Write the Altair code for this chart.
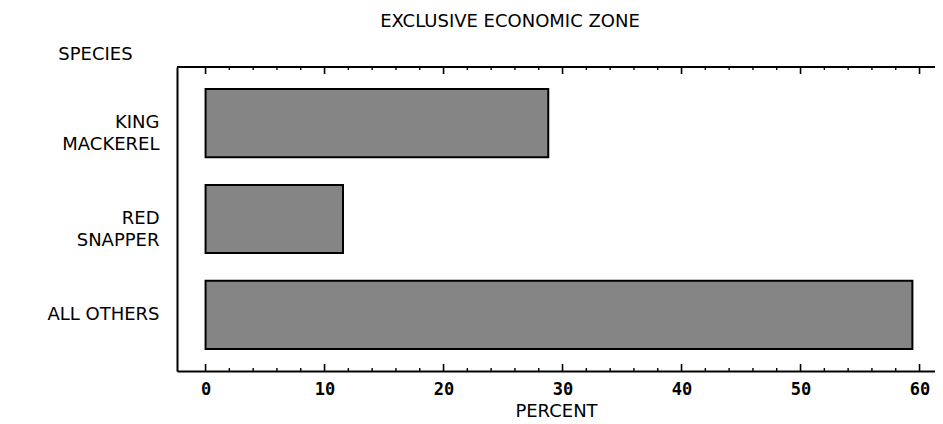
import altair as alt
import pandas as pd

# ---- data ----
species = ["KING MACKEREL", "RED SNAPPER", "ALL OTHERS"]
percent = [28.8, 11.55, 59.4]
major_ticks = [0, 10, 20, 30, 40, 50, 60]
minor_ticks = [2, 4, 6, 8, 12, 14, 16, 18, 22, 24, 26, 28,
               32, 34, 36, 38, 42, 44, 46, 48, 52, 54, 56, 58]

title_text = "EXCLUSIVE ECONOMIC ZONE"
x_title = "PERCENT"
y_title = "SPECIES"

W, H = 758, 304

bars_df = pd.DataFrame({"species": species, "percent": percent})
major_df = pd.DataFrame({"v": major_ticks})
minor_df = pd.DataFrame({"v": minor_ticks})
one_df = pd.DataFrame({"a": [0]})

xscale = alt.Scale(domain=[-2.4, 61.3], zero=False, nice=False)
yscale = alt.Scale(domain=species, paddingInner=0.288, paddingOuter=0.23)

x_axis = alt.Axis(values=major_ticks, ticks=False, tickSize=0,
                  domain=True, domainColor="black", domainWidth=2,
                  grid=False,
                  labelFont="DejaVu Sans Mono", labelFontWeight="bold",
                  labelFontSize=17, labelColor="black",
                  labelBaseline="middle", labelPadding=18,
                  title=x_title, titleFont="DejaVu Sans",
                  titleFontSize=18, titleFontWeight="normal",
                  titleColor="black", titleY=40,
                  titleBaseline="middle")

NB = "\u00a0" * 6
label_expr = ("datum.value == 'ALL OTHERS' ? datum.value : "
              "[split(datum.value, ' ')[0] + '" + NB + "', split(datum.value, ' ')[1]]")

bars = alt.Chart(bars_df).mark_bar(
    fill="#858585", stroke="black", strokeWidth=2
).encode(
    x=alt.X("percent:Q", scale=xscale, axis=x_axis),
    x2=alt.datum(0),
    y=alt.Y("species:N", scale=yscale, sort=species,
            axis=alt.Axis(ticks=False, tickSize=0, domain=True,
                          domainColor="black", domainWidth=2, grid=False,
                          labelExpr=label_expr, labelAlign="right",
                          labelBaseline="middle", labelPadding=18,
                          labelFont="DejaVu Sans", labelFontSize=18,
                          labelLineHeight=22, labelColor="black", labelLimit=0,
                          title=y_title, titleAngle=0, titleX=-82, titleY=-13,
                          titleAlign="center", titleBaseline="middle",
                          titleFont="DejaVu Sans", titleFontSize=18,
                          titleFontWeight="normal", titleColor="black")),
)

top_line = alt.Chart(one_df).mark_rule(color="black", strokeWidth=2).encode(
    x=alt.value(0), x2=alt.value(W), y=alt.value(0)
)

def tick_layer(df, y0, y1, w):
    return alt.Chart(df).mark_rule(color="black", strokeWidth=w).encode(
        x=alt.X("v:Q", scale=xscale, axis=x_axis),
        y=alt.value(y0), y2=alt.value(y1),
    )

layers = [
    bars,
    top_line,
    tick_layer(major_df, H, H - 7, 1.6),
    tick_layer(minor_df, H, H - 3, 1.4),
    tick_layer(major_df, 0, 7, 1.6),
    tick_layer(minor_df, 0, 3, 1.4),
]

chart = alt.layer(*layers).properties(
    width=W, height=H,
    autosize=alt.AutoSizeParams(type="none"),
    padding={"left": 169, "top": 59, "right": 0, "bottom": 52},
    title=alt.TitleParams(title_text, anchor="middle", dx=-46, offset=0,
                          baseline="alphabetic", fontSize=18,
                          font="DejaVu Sans", fontWeight="normal",
                          color="black", frame="group"),
).configure_view(stroke=None).configure(background="white")

chart.save("out.html", embed_options={"renderer": "svg", "actions": False})
